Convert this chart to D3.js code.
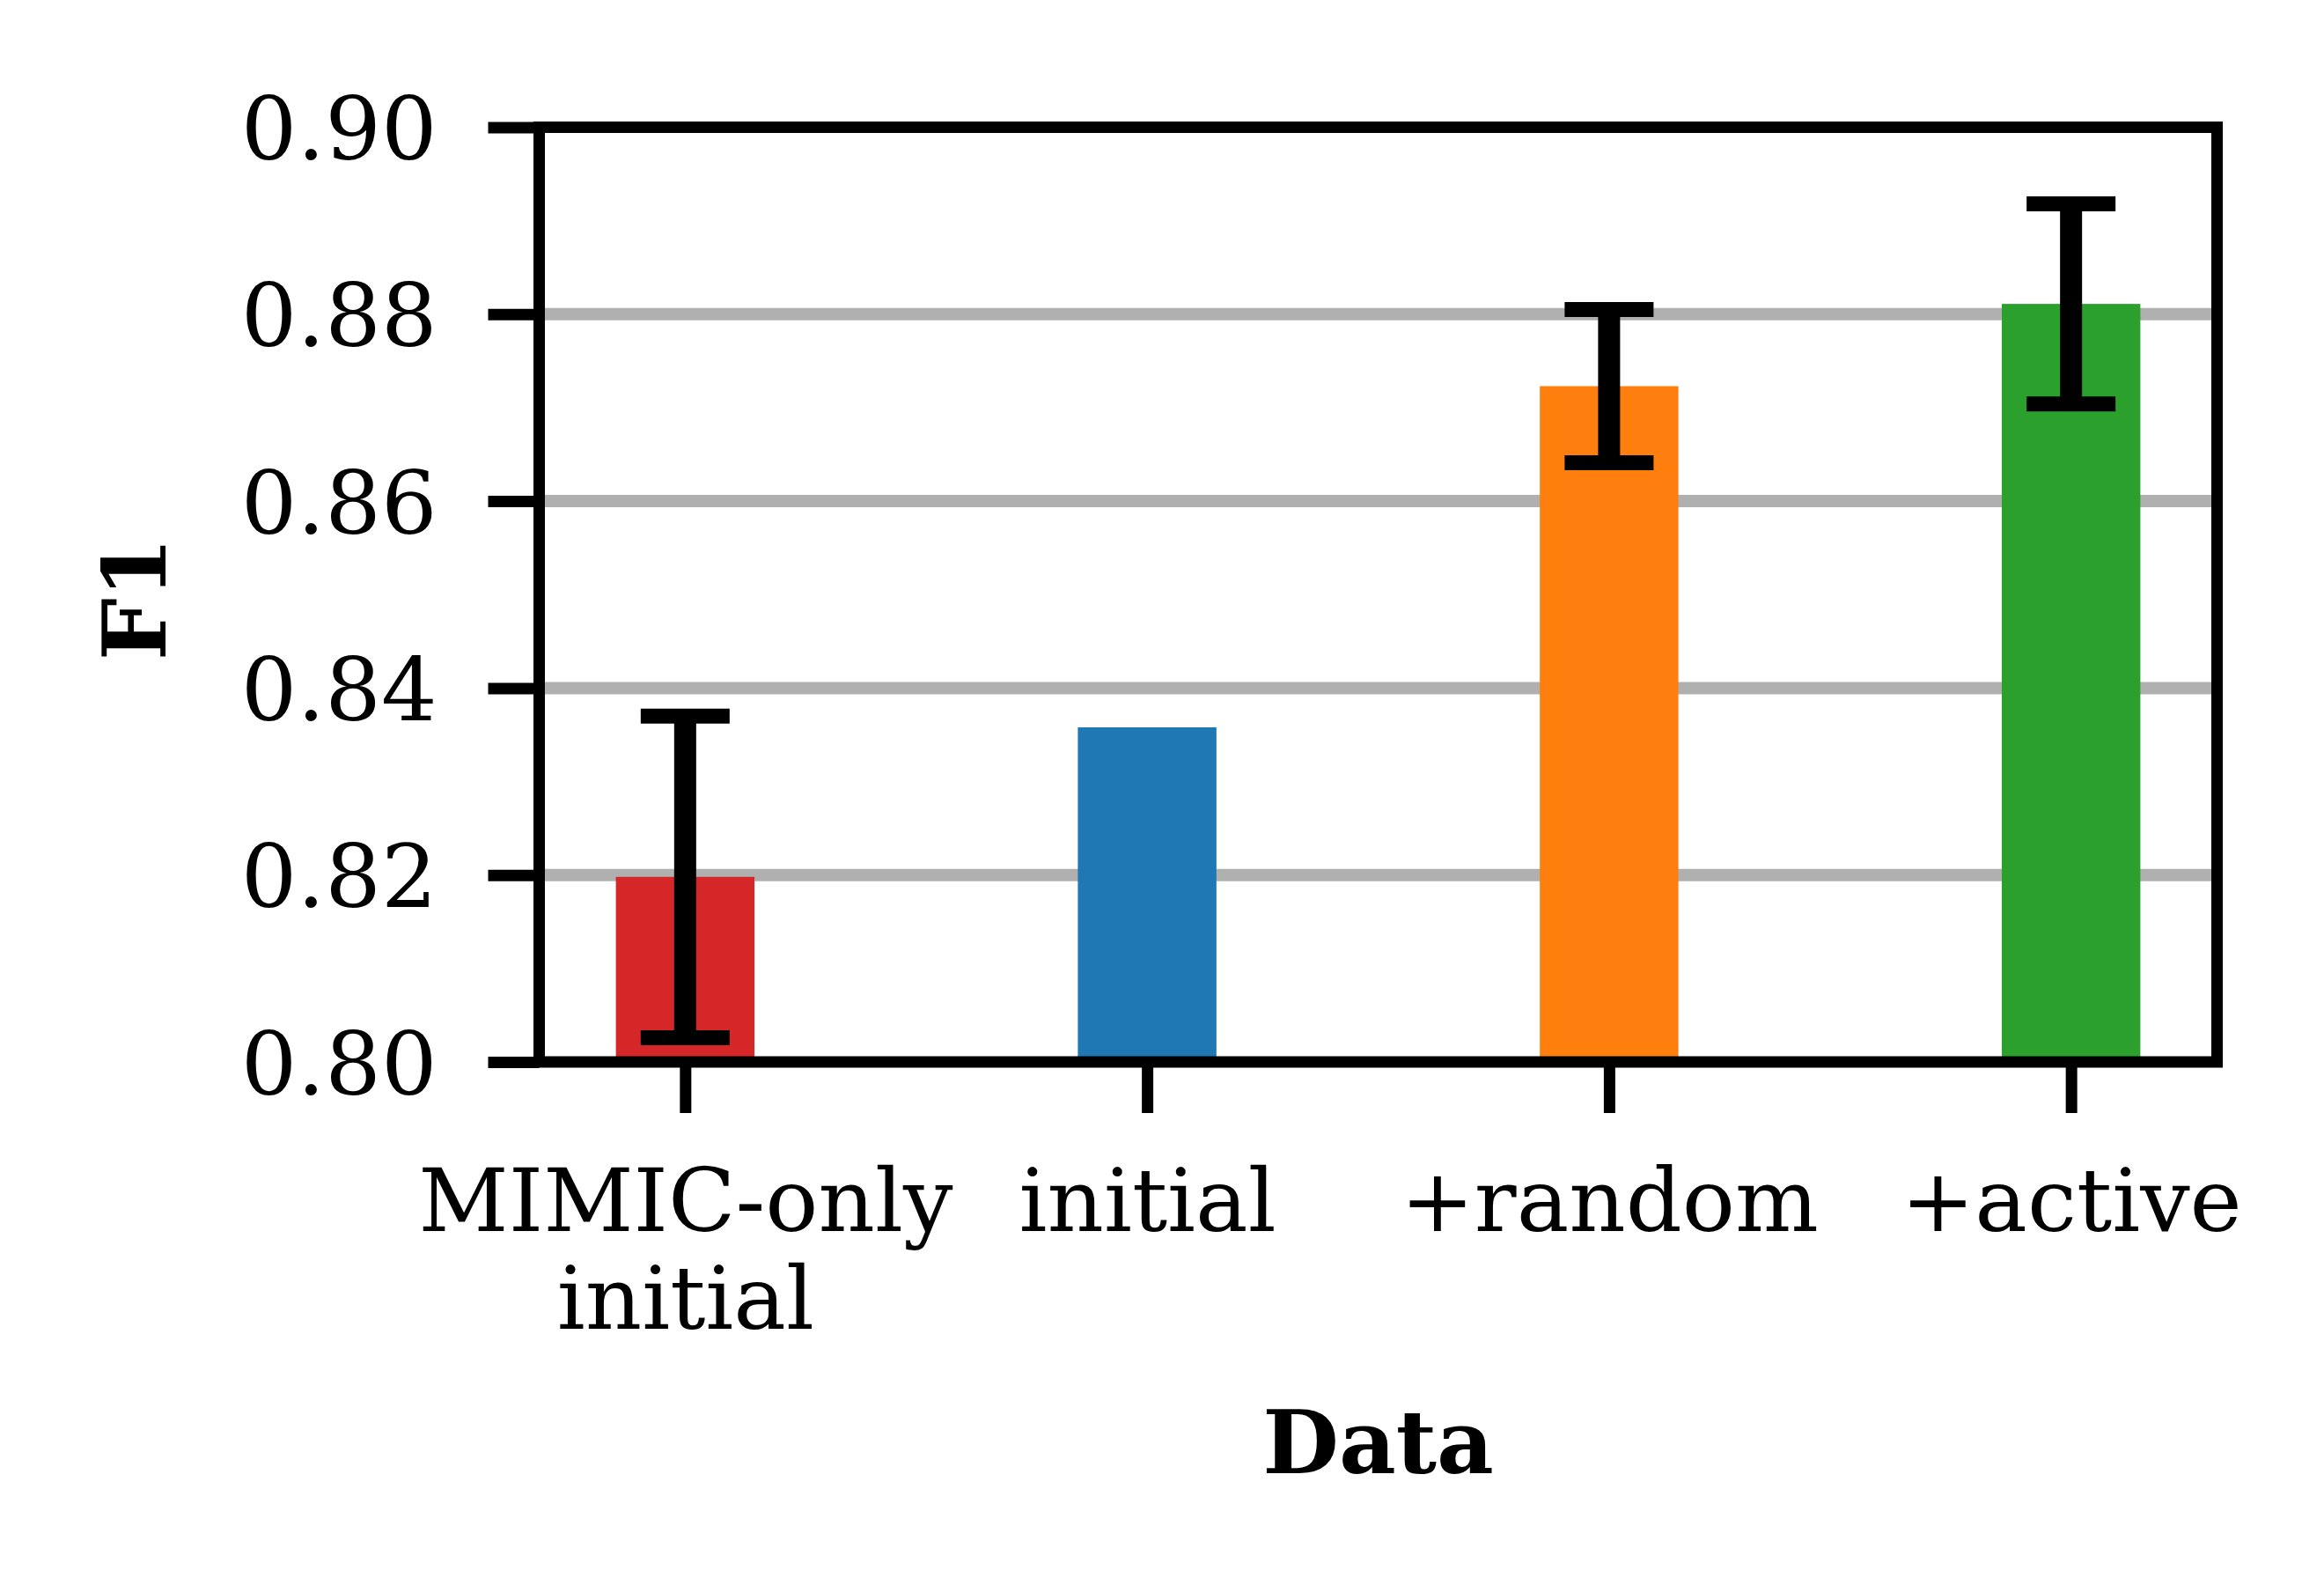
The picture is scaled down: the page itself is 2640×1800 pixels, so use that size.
<!DOCTYPE html>
<html>
<head>
<meta charset="utf-8">
<script src="https://cdn.jsdelivr.net/npm/d3@7"></script>
<style>
  html, body { margin: 0; padding: 0; background: #fff; }
  svg text { font-family: 'DejaVu Serif', serif; fill: #000; }
</style>
</head>
<body>
<div class="svg-container"></div>
<script>
// chart data
const categories = ['MIMIC-only\ninitial', 'initial', '+random', '+active'];
const f1Values = [0.8198, 0.8358, 0.8723, 0.8811];
const f1Errors = [0.0172, 0, 0.0082, 0.0107];
const yTicks = [0.80, 0.82, 0.84, 0.86, 0.88, 0.90];
const palette = ['#d62728', '#1f77b4', '#ff7f0e', '#2ca02c'];

const width = 2640;
const height = 1800;
const plot = { left: 612.5, right: 2518.5, top: 144.5, bottom: 1206 };
const fontSize = 100;

const svg = d3.select('.svg-container')
    .append('svg')
    .attr('width', width)
    .attr('height', height);

// scales
const x = d3.scalePoint()
    .domain(categories)
    .range([plot.left, plot.right])
    .padding(0.316);
const barWidth = x.step() * 0.3;

const y = d3.scaleLinear()
    .domain([0.80, 0.90])
    .range([plot.bottom, plot.top]);

const color = d3.scaleOrdinal().domain(categories).range(palette);

// grid lines (inner ticks only)
svg.append('g')
    .attr('class', 'grid')
    .selectAll('line')
    .data(yTicks.slice(1, -1))
    .enter()
    .append('line')
    .attr('x1', plot.left)
    .attr('x2', plot.right)
    .attr('y1', (d) => y(d))
    .attr('y2', (d) => y(d))
    .attr('stroke', '#b0b0b0')
    .attr('stroke-width', 14);

const rows = categories.map((c, i) => ({ cat: c, value: f1Values[i], err: f1Errors[i] }));

// bars
svg.append('g')
    .selectAll('rect')
    .data(rows)
    .enter()
    .append('rect')
    .attr('x', (d) => x(d.cat) - barWidth / 2)
    .attr('width', barWidth)
    .attr('y', (d) => y(d.value))
    .attr('height', (d) => y(0.80) - y(d.value))
    .attr('fill', (d) => color(d.cat));

// error bars
const errRows = rows.filter((d) => d.err > 0);
const errG = svg.append('g').attr('class', 'errors');
errG.selectAll('.err-line')
    .data(errRows)
    .enter()
    .append('line')
    .attr('class', 'err-line')
    .attr('x1', (d) => x(d.cat))
    .attr('x2', (d) => x(d.cat))
    .attr('y1', (d) => y(d.value - d.err))
    .attr('y2', (d) => y(d.value + d.err))
    .attr('stroke', '#000')
    .attr('stroke-width', 25);
[-1, 1].forEach((s) => {
    errG.selectAll('.cap' + (s > 0 ? 'up' : 'down'))
        .data(errRows)
        .enter()
        .append('line')
        .attr('x1', (d) => x(d.cat) - 50.5)
        .attr('x2', (d) => x(d.cat) + 50.5)
        .attr('y1', (d) => y(d.value + s * d.err))
        .attr('y2', (d) => y(d.value + s * d.err))
        .attr('stroke', '#000')
        .attr('stroke-width', 17);
});

// y axis
const yAxis = svg.append('g')
    .attr('transform', `translate(${plot.left},0)`)
    .call(d3.axisLeft(y).tickValues(yTicks).tickFormat(d3.format('.2f')).tickSize(58).tickPadding(58));
yAxis.select('.domain').remove();
yAxis.selectAll('.tick line').attr('stroke', '#000').attr('stroke-width', 13);
yAxis.selectAll('.tick text')
    .attr('font-size', fontSize)
    .attr('font-family', 'DejaVu Serif')
    .attr('dy', '0.36em');

// x axis
const xAxis = svg.append('g')
    .attr('transform', `translate(0,${plot.bottom})`)
    .call(d3.axisBottom(x).tickSize(58).tickPadding(63));
xAxis.select('.domain').remove();
xAxis.selectAll('.tick line').attr('stroke', '#000').attr('stroke-width', 13);
xAxis.selectAll('.tick text')
    .attr('font-size', fontSize)
    .attr('font-family', 'DejaVu Serif')
    .attr('dy', null)
    .each(function (d) {
        const t = d3.select(this);
        const lines = d.split('\n');
        t.text(null);
        lines.forEach((ln, k) => {
            t.append('tspan')
                .attr('x', 0)
                .attr('dy', k === 0 ? '0.71em' : 111)
                .text(ln);
        });
    });

// frame
svg.append('rect')
    .attr('x', plot.left)
    .attr('y', plot.top)
    .attr('width', plot.right - plot.left)
    .attr('height', plot.bottom - plot.top)
    .attr('fill', 'none')
    .attr('stroke', '#000')
    .attr('stroke-width', 13);

// axis titles
svg.append('text')
    .attr('x', (plot.left + plot.right) / 2)
    .attr('y', 1673)
    .attr('text-anchor', 'middle')
    .attr('font-size', fontSize)
    .attr('font-weight', 'bold')
    .text('Data');

svg.append('text')
    .attr('transform', `translate(188,680) rotate(-90)`)
    .attr('text-anchor', 'middle')
    .attr('font-size', fontSize)
    .attr('font-weight', 'bold')
    .text('F1');
</script>
</body>
</html>
